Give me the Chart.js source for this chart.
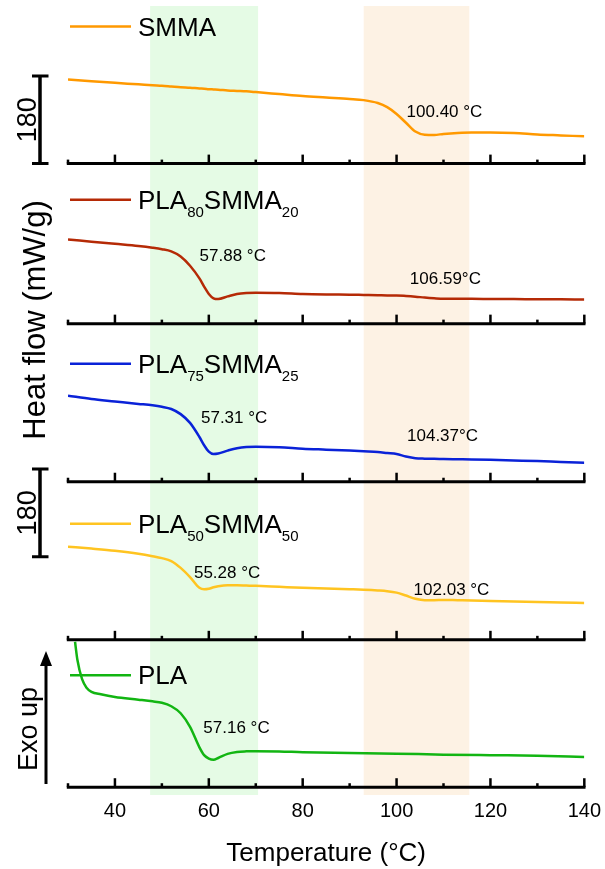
<!DOCTYPE html>
<html>
<head>
<meta charset="utf-8">
<title>DSC heat flow</title>
<script src="https://cdn.jsdelivr.net/npm/chart.js@4.4.1/dist/chart.umd.min.js"></script>
<style>
  html, body { margin: 0; padding: 0; background: #fff; }
</style>
</head>
<body>
<canvas id="dsc" width="605" height="869"></canvas>
<script>
// temperature grid (°C) for the four SMMA-containing runs
const temps = [30, 35, 40, 45, 48, 50, 52, 54, 56, 58, 59, 60, 61, 62, 64, 66, 68, 70, 75,
  80, 85, 90, 93, 96, 98, 100, 102, 104, 106, 108, 110, 113, 116, 120, 125, 130, 135, 140];

// heat flow, same units as the 180 scale bar, measured up from each panel's baseline
const smma = [173, 169.5, 166, 163, 161, 160, 158.5, 157, 156, 154.5, 154, 153, 152.5, 152, 150.5, 149.5, 148.5, 147, 143,
  139, 136, 133, 130.5, 124.5, 116, 102, 84, 66, 59.5, 59, 61, 63, 64, 64, 63, 60, 58, 56];
const pla80 = [173, 168.5, 164, 159.5, 156, 153, 148.5, 138, 119, 93, 76, 61, 52, 50.5, 56, 61, 63, 63.5, 63,
  61, 60, 59.5, 59, 58.5, 58, 58, 57, 55.5, 53.5, 52, 51, 51, 51, 50.7, 50.5, 50.2, 50, 49.7];
const pla75 = [177, 170, 165, 160, 157, 154, 149.5, 139, 121, 92, 75, 62, 57, 58, 64, 69, 71.5, 72, 71,
  68, 66, 64, 62.5, 61, 59, 57, 52, 48.5, 47.5, 47, 46.8, 46.3, 45.8, 45, 43.7, 42.4, 40.6, 39];
const pla50 = [191.5, 187.5, 183, 177, 172, 168, 162, 148, 129, 107, 104, 105, 108, 110, 112, 112, 111.5, 111, 109,
  107, 105.5, 104, 103, 101.5, 100, 97, 91, 84.5, 81.5, 81.5, 82, 81.5, 81, 80, 79, 77.8, 76.8, 75.7];

// neat PLA run (starts slightly above 30 °C)
const plaTemps = [31.5, 32, 33, 34, 35, 37, 40, 45, 48, 50, 52, 54, 56, 58, 59, 60, 61, 62, 64, 66, 68, 70, 75,
  80, 90, 100, 110, 120, 130, 140];
const pla = [299, 262, 222, 204, 196, 191, 185.5, 180, 176.5, 173.5, 166.5, 152, 124, 82, 66, 59, 56.5, 60, 68.5, 72.5, 73.7, 74, 73.5,
  72, 70.5, 69, 67, 65.8, 64.8, 62];

// names: plain text and subscripts alternate
const names = [['SMMA'], ['PLA', '80', 'SMMA', '20'], ['PLA', '75', 'SMMA', '25'], ['PLA', '50', 'SMMA', '50'], ['PLA']];
const colors = ['#ff9900', '#b52a06', '#0a22d8', '#ffc421', '#12b512'];
const tgLow = [null, '57.88 °C', '57.31 °C', '55.28 °C', '57.16 °C'];
const tgHigh = ['100.40 °C', '106.59°C', '104.37°C', '102.03 °C', null];
const xLabels = [40, 60, 80, 100, 120, 140];
const scaleBar = 180;
const plaBand = [47.5, 70.5];
const smmaBand = [93, 115.5];

const FONT = 'Arial, "Liberation Sans", sans-serif';

// vertical shift of each panel baseline
const offsets = [1282, 953, 628, 303, 0];
// legend line height above baseline (px), label placements [°C, px above baseline]
const legendRise = [137, 124, 118, 116, 112];
const lowPos = [null, [65.1, 67], [65.4, 63], [63.9, 67], [65.9, 59]];
const highPos = [[110.2, 51], [110.4, 44], [109.8, 45], [111.7, 50], null];

const series = [smma, pla80, pla75, pla50];
const datasets = series.map((s, i) => ({
  label: names[i].join(''),
  data: temps.map((t, k) => ({ x: t, y: s[k] + offsets[i] })),
  borderColor: colors[i]
}));
datasets.push({
  label: 'PLA',
  data: plaTemps.map((t, k) => ({ x: t, y: pla[k] + offsets[4] })),
  borderColor: colors[4]
});

function drawName(ctx, parts, x, base) {
  parts.forEach((p, i) => {
    const sub = i % 2 === 1;
    ctx.font = (sub ? '15px ' : '26px ') + FONT;
    ctx.fillText(p, x, base + (sub ? 8 : 0));
    x += ctx.measureText(p).width;
  });
}

function rotatedText(ctx, text, x, y, size) {
  ctx.save();
  ctx.translate(x, y);
  ctx.rotate(-Math.PI / 2);
  ctx.font = size + 'px ' + FONT;
  ctx.textAlign = 'center';
  ctx.textBaseline = 'alphabetic';
  ctx.fillText(text, 0, 0);
  ctx.restore();
}

const decor = {
  id: 'decor',
  beforeDatasetsDraw(chart) {
    const { ctx, chartArea: a, scales: { x, y } } = chart;
    ctx.save();
    [[plaBand, '#e5fbe5'], [smmaBand, '#fdf2e4']].forEach(([b, c]) => {
      const x0 = x.getPixelForValue(b[0]);
      ctx.fillStyle = c;
      ctx.fillRect(x0, a.top, x.getPixelForValue(b[1]) - x0, a.bottom - a.top);
    });
    // baseline axis for every panel, ticks pointing up
    ctx.strokeStyle = '#000';
    const xl = x.getPixelForValue(30), xr = x.getPixelForValue(140);
    offsets.forEach(off => {
      const py = y.getPixelForValue(off);
      ctx.lineWidth = 3;
      ctx.beginPath();
      ctx.moveTo(xl - 1.2, py);
      ctx.lineTo(xr + 1.2, py);
      ctx.stroke();
      ctx.lineWidth = 2.5;
      for (let t = 30; t <= 140; t += 10) {
        const px = x.getPixelForValue(t);
        ctx.beginPath();
        ctx.moveTo(px, py);
        ctx.lineTo(px, py - (t % 20 === 0 ? 9 : 4));
        ctx.stroke();
      }
    });
    ctx.restore();
  },
  afterDatasetsDraw(chart) {
    const { ctx, scales: { x, y } } = chart;
    ctx.save();
    ctx.fillStyle = '#000';
    offsets.forEach((off, i) => {
      const py = y.getPixelForValue(off);
      // legend entry
      const ly = py - legendRise[i];
      ctx.strokeStyle = colors[i];
      ctx.lineWidth = 2.5;
      ctx.beginPath();
      ctx.moveTo(70, ly);
      ctx.lineTo(131, ly);
      ctx.stroke();
      ctx.textAlign = 'left';
      ctx.textBaseline = 'alphabetic';
      drawName(ctx, names[i], 138, ly + 9);
      // glass transition labels
      ctx.font = '17px ' + FONT;
      ctx.textAlign = 'center';
      ctx.textBaseline = 'middle';
      [[tgLow[i], lowPos[i]], [tgHigh[i], highPos[i]]].forEach(([txt, pos]) => {
        if (!txt) return;
        ctx.fillText(txt, x.getPixelForValue(pos[0]), py - pos[1]);
      });
    });

    // 180 scale bars
    ctx.strokeStyle = '#000';
    [offsets[0], offsets[3] + 171].forEach(base => {
      const y0 = y.getPixelForValue(base), y1 = y.getPixelForValue(base + scaleBar);
      ctx.lineWidth = 3.5;
      ctx.beginPath();
      ctx.moveTo(40, y0);
      ctx.lineTo(40, y1);
      ctx.stroke();
      ctx.lineWidth = 3;
      ctx.beginPath();
      ctx.moveTo(32, y0); ctx.lineTo(48.5, y0);
      ctx.moveTo(32, y1); ctx.lineTo(48.5, y1);
      ctx.stroke();
      rotatedText(ctx, String(scaleBar), 36, (y0 + y1) / 2, 27);
    });

    rotatedText(ctx, 'Heat flow (mW/g)', 45, 320, 31);

    // exo up arrow
    ctx.lineWidth = 3;
    ctx.beginPath();
    ctx.moveTo(46, 784);
    ctx.lineTo(46, 662);
    ctx.stroke();
    ctx.beginPath();
    ctx.moveTo(46, 651);
    ctx.lineTo(52, 666);
    ctx.lineTo(40, 666);
    ctx.closePath();
    ctx.fill();
    rotatedText(ctx, 'Exo up', 37, 729, 27);
    ctx.restore();
  }
};

new Chart(document.getElementById('dsc'), {
  type: 'line',
  data: { datasets },
  options: {
    responsive: false,
    animation: false,
    layout: { padding: { left: 68, right: 20, top: 6, bottom: 2 } },
    elements: {
      point: { radius: 0 },
      line: { borderWidth: 2.5, cubicInterpolationMode: 'monotone', fill: false }
    },
    plugins: { legend: { display: false }, tooltip: { enabled: false } },
    scales: {
      x: {
        type: 'linear',
        min: 30,
        max: 140,
        grid: { display: false, drawTicks: false },
        border: { display: false },
        ticks: {
          stepSize: 10,
          autoSkip: false,
          maxRotation: 0,
          padding: 4,
          color: '#000',
          font: { family: FONT, size: 20 },
          callback: v => (xLabels.includes(v) ? String(v) : '')
        },
        title: {
          display: true,
          text: 'Temperature (°C)',
          color: '#000',
          font: { family: FONT, size: 26, lineHeight: 1 },
          padding: { top: 14, bottom: 0 }
        }
      },
      y: { display: false, min: -16, max: 1606 }
    }
  },
  plugins: [decor]
});
</script>
</body>
</html>
